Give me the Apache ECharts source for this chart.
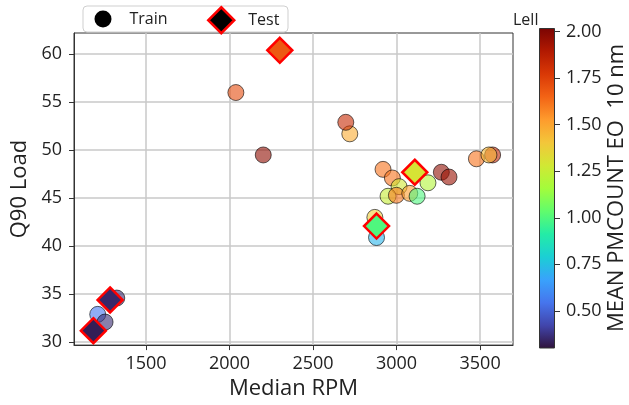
<!DOCTYPE html>
<html><head><meta charset="utf-8">
<script src="https://cdn.jsdelivr.net/npm/echarts@6/dist/echarts.min.js"></script>
<style>html,body{margin:0;padding:0;background:#fff}#c{width:629px;height:405px}</style>
</head><body><div id="c"></div>
<script>
// ---- data ----
const trainRpm  = [1211, 1255, 1325, 2038, 2202, 2720, 2696, 2919, 2975, 3015, 2949, 2999, 3079, 3123, 3188, 3268, 3314, 3575, 3478, 3553, 2870, 2880];
const trainLoad = [32.9, 32.1, 34.6, 56.0, 49.5, 51.7, 52.9, 48.0, 47.1, 46.2, 45.2, 45.3, 45.5, 45.2, 46.6, 47.7, 47.2, 49.5, 49.1, 49.5, 43.0, 40.9];
const trainPm   = [0.55, 0.36, 0.36, 1.72, 1.97, 1.48, 1.83, 1.62, 1.62, 1.28, 1.25, 1.60, 1.52, 1.00, 1.20, 1.97, 1.95, 1.85, 1.62, 1.45, 1.38, 0.72];
const testRpm   = [2301, 3109, 2880, 1285, 1185];
const testLoad  = [60.4, 47.7, 42.1, 34.4, 31.2];
const testPm    = [1.68, 1.30, 1.00, 0.35, 0.33];
const xTicks = [1500, 2000, 2500, 3000, 3500];
const yTicks = [30, 35, 40, 45, 50, 55, 60];
const cbarTicks = [0.50, 0.75, 1.00, 1.25, 1.50, 1.75, 2.00];
const cbarRange = [0.30, 2.02];
const turbo = ["#30123b","#4145ab","#4675ed","#39a2fc","#1bcfd4","#24eca6","#61fc6c","#a4fc3b","#d1e834","#f3c63a","#fe9b2d","#f36315","#d93806","#b11901","#7a0403"];

const FONT = 'Open Sans';
const trainData = trainRpm.map((x, i) => [x, trainLoad[i], trainPm[i]]);
const testData = testRpm.map((x, i) => [x, testLoad[i], testPm[i]]);

const chart = echarts.init(document.getElementById('c'), null, {renderer: 'canvas'});
chart.setOption({
  animation: false,
  textStyle: {fontFamily: FONT},
  grid: [
    {left: 74, top: 33, width: 439, height: 315, show: true, borderColor: '#333', borderWidth: 1, containLabel: false},
    {left: 539, top: 28, width: 17, height: 320, show: false, containLabel: false}
  ],
  xAxis: [
    {type: 'value', gridIndex: 0, min: 1069, max: 3697, minInterval: 500, maxInterval: 500,
     name: 'Median RPM', nameLocation: 'middle', nameGap: 27,
     nameTextStyle: {fontSize: 22, color: '#222', fontFamily: FONT},
     axisLine: {show: true, lineStyle: {color: '#333', width: 1}},
     axisTick: {show: true, length: 5, lineStyle: {color: '#333'}, customValues: xTicks},
     axisLabel: {fontSize: 18, color: '#222', margin: 10, customValues: xTicks, formatter: v => String(v)},
     splitLine: {show: true, lineStyle: {color: '#c8c8c8', width: 1.5}}},
    {type: 'category', gridIndex: 1, data: ['c'], show: false}
  ],
  yAxis: [
    {type: 'value', gridIndex: 0, min: 29.7, max: 62.2, minInterval: 5, maxInterval: 5,
     name: 'Q90 Load', nameLocation: 'middle', nameGap: 42,
     nameTextStyle: {fontSize: 22, color: '#222', fontFamily: FONT},
     axisLine: {show: true, lineStyle: {color: '#333', width: 1}},
     axisTick: {show: true, length: 5, lineStyle: {color: '#333'}, customValues: yTicks},
     axisLabel: {fontSize: 18, color: '#222', margin: 12, customValues: yTicks, formatter: v => String(v)},
     splitLine: {show: true, lineStyle: {color: '#c8c8c8', width: 1.5}}},
    {type: 'value', gridIndex: 1, min: cbarRange[0], max: cbarRange[1], position: 'right',
     name: 'MEAN PMCOUNT EO  10 nm', nameLocation: 'middle', nameGap: 51, nameRotate: 90,
     nameTextStyle: {fontSize: 22, color: '#222', fontFamily: FONT},
     axisLine: {show: false},
     axisTick: {show: true, length: 5, lineStyle: {color: '#333'}, customValues: cbarTicks},
     axisLabel: {fontSize: 18, color: '#222', margin: 11, customValues: cbarTicks, formatter: v => v.toFixed(2)},
     splitLine: {show: false}}
  ],
  visualMap: {
    show: false, type: 'continuous', dimension: 2, seriesIndex: [0, 1],
    min: cbarRange[0], max: cbarRange[1], inRange: {color: turbo}
  },
  legend: [
    {data: [{name: 'Train', icon: 'circle', itemStyle: {color: '#000', opacity: 1, borderWidth: 0}}],
     left: 94.5, top: 10.5, padding: 0, itemWidth: 17, itemHeight: 17,
     textStyle: {fontSize: 16, color: '#222', fontFamily: FONT, padding: [0, 0, 0, 13]}, selectedMode: false},
    {data: [{name: 'Test', icon: 'diamond', itemStyle: {color: '#000', opacity: 1, borderColor: '#ff0000', borderWidth: 2.5}}],
     left: 207, top: 6, padding: 0, itemWidth: 26, itemHeight: 26,
     textStyle: {fontSize: 16, color: '#222', fontFamily: FONT, padding: [0, 0, 0, 9]}, selectedMode: false}
  ],
  graphic: [
    {type: 'rect', z: 1, shape: {x: 83, y: 6, width: 205, height: 26, r: 4},
     style: {fill: 'rgba(255,255,255,0.8)', stroke: '#cfcfcf', lineWidth: 1}},
    {type: 'text', z: 5, left: 513, top: 12, style: {text: 'Lell', font: '16px "Open Sans"', fill: '#222'}}
  ],
  series: [
    {name: 'Train', type: 'scatter', xAxisIndex: 0, yAxisIndex: 0, symbol: 'circle', symbolSize: 16,
     itemStyle: {opacity: 0.6, borderColor: '#000', borderWidth: 1}, data: trainData, z: 3},
    {name: 'Test', type: 'scatter', xAxisIndex: 0, yAxisIndex: 0, symbol: 'diamond', symbolSize: 25,
     itemStyle: {opacity: 1, borderColor: '#ff0000', borderWidth: 2.5}, data: testData, z: 4},
    {name: 'cbar', type: 'bar', xAxisIndex: 1, yAxisIndex: 1, barWidth: '100%', silent: true,
     data: [cbarRange[1]],
     itemStyle: {borderColor: '#333', borderWidth: 1,
       color: new echarts.graphic.LinearGradient(0, 1, 0, 0,
         turbo.map((c, i) => ({offset: i / (turbo.length - 1), color: c})))}}
  ]
});
</script></body></html>
